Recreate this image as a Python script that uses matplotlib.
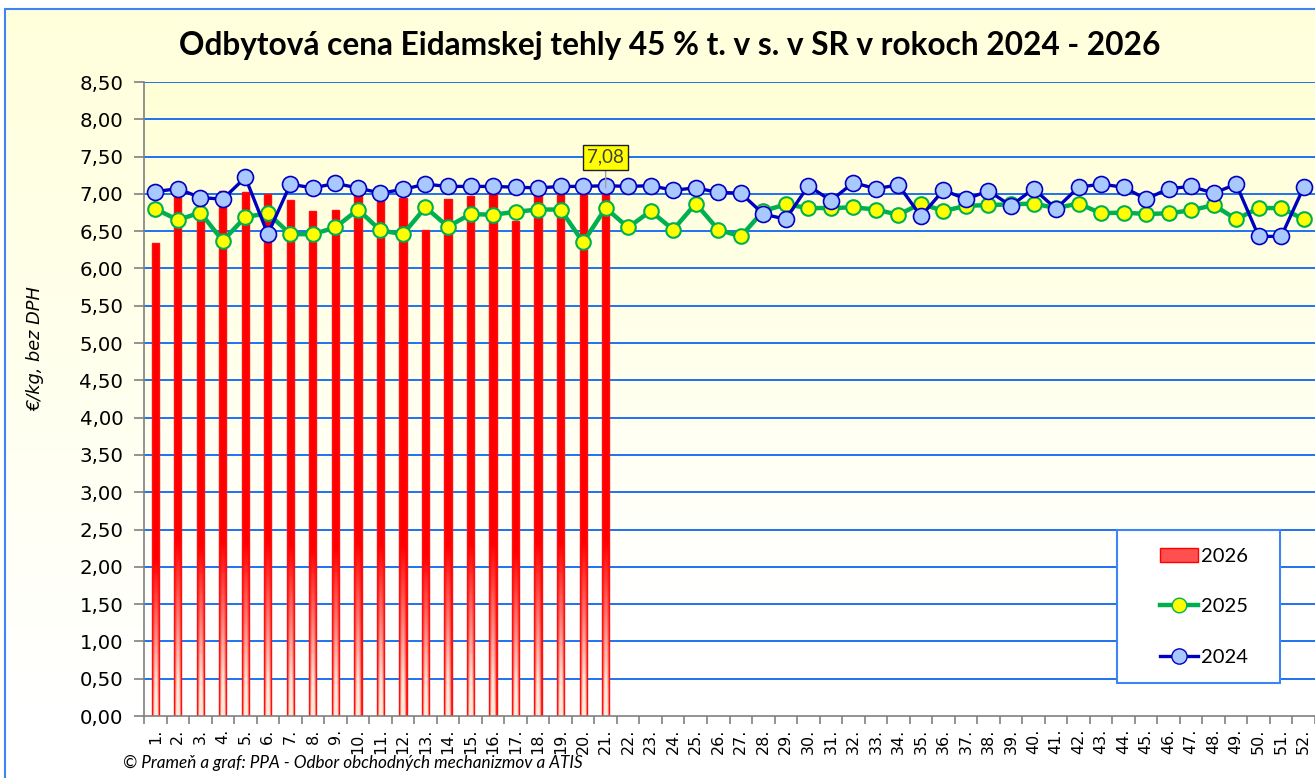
import numpy as np
import matplotlib
matplotlib.use("Agg")
from matplotlib import pyplot as plt
from matplotlib.patches import Rectangle, Patch
from matplotlib.lines import Line2D
from matplotlib.ticker import FixedLocator, FuncFormatter

# data
weeks = [str(i) + "." for i in range(1, 53)]

y2026 = [6.34, 7.10, 6.90, 7.04, 7.02, 7.00, 6.92, 6.77, 6.78, 7.01,
         6.94, 6.95, 6.51, 6.93, 6.97, 7.03, 6.64, 7.02, 7.05, 7.08, 7.08]

y2025 = [6.80, 6.65, 6.75, 6.37, 6.69, 6.74, 6.46, 6.46, 6.55, 6.79,
         6.51, 6.46, 6.82, 6.56, 6.73, 6.72, 6.76, 6.79, 6.79, 6.35,
         6.81, 6.55, 6.77, 6.52, 6.87, 6.52, 6.43, 6.77, 6.86, 6.81,
         6.81, 6.82, 6.79, 6.72, 6.87, 6.77, 6.84, 6.85, 6.86, 6.87,
         6.81, 6.87, 6.74, 6.75, 6.73, 6.74, 6.78, 6.85, 6.66, 6.81,
         6.81, 6.66]

y2024 = [7.03, 7.07, 6.95, 6.93, 7.22, 6.46, 7.13, 7.08, 7.14, 7.08,
         7.01, 7.06, 7.13, 7.10, 7.10, 7.10, 7.09, 7.08, 7.10, 7.10,
         7.11, 7.10, 7.11, 7.05, 7.08, 7.02, 7.01, 6.73, 6.66, 7.11,
         6.91, 7.15, 7.07, 7.12, 6.70, 7.05, 6.93, 7.04, 6.84, 7.07,
         6.80, 7.09, 7.13, 7.09, 6.93, 7.07, 7.10, 7.01, 7.13, 6.43,
         6.43, 7.09]

last_label = "7,08"

W, H = 1315, 778
fig = plt.figure(figsize=(W / 100, H / 100), dpi=100)
fig.patch.set_facecolor("white")

# chart area background (pale yellow fading to white) with blue border
bg = fig.add_axes([0, 0, 1, 1], zorder=-10)
bg.set_axis_off()
grad = np.linspace(0, 1, 256)[:, None]
t = np.clip(grad / 0.9, 0, 1)[..., None]
img = np.array([1.0, 1.0, 0.86]) * (1 - t) + np.array([1.0, 1.0, 1.0]) * t
bg.imshow(img, extent=[5 / W, 1.01, -0.01, 1 - 9 / H], aspect="auto", origin="upper")
bg.set_xlim(0, 1)
bg.set_ylim(0, 1)
bg.add_patch(Rectangle((5 / W, -0.05), 1.0, 1 - 9 / H + 0.05, fill=False,
                       edgecolor="#3D85F5", linewidth=1.5))

ax = fig.add_axes([144 / W, (H - 716) / H, (W - 144) / W, (716 - 82) / H])
ax.set_facecolor("none")

# plot area gradient
pg = np.linspace(0, 1, 256)[:, None]
tp = np.clip(pg / 0.8, 0, 1)[..., None]
pimg = np.array([1.0, 1.0, 0.84]) * (1 - tp) + np.array([1.0, 1.0, 1.0]) * tp
ax.imshow(pimg, extent=[0, 1, 0, 1], transform=ax.transAxes, aspect="auto",
          origin="upper", zorder=0)

x = np.arange(1, 53)

# grid
for v in np.arange(0.5, 8.51, 0.5):
    ax.axhline(v, color="#1F72F0", linewidth=1.4, zorder=1)

# bars 2026 with gradient fill
bars = ax.bar(x[:len(y2026)], y2026, width=0.32, color="#FF0000",
              edgecolor="#FF1010", linewidth=1.0, zorder=2)
ny, nx = 200, 20
vv = np.linspace(1, 0, ny)[:, None]  # top -> bottom
hh = np.linspace(-1, 1, nx)[None, :]
fade = np.clip(1 - vv / 0.33, 0, 1)
pale = np.clip(fade * (1 - hh ** 2) * 0.95 + fade * 0.25 * (1 - np.abs(hh)), 0, 0.95)
red = np.array([1.0, 0.0, 0.0])
white = np.array([1.0, 0.97, 0.9])
bar_img = red * (1 - pale[..., None]) + white * pale[..., None]
for b in bars:
    x0 = b.get_x()
    im = ax.imshow(bar_img, extent=[x0, x0 + b.get_width(), 0, b.get_height()],
                   aspect="auto", origin="upper", zorder=2.1)
    im.set_clip_path(b)
    b.set_facecolor("none")
    b.set_zorder(2.2)

# lines
ax.plot(x, y2025, color="#00B050", linewidth=3.2, marker="o", markersize=10.5,
        markerfacecolor="#FFFF00", markeredgecolor="#00B050", markeredgewidth=1.5,
        zorder=3)
ax.plot(x, y2024, color="#0000C0", linewidth=2.4, marker="o", markersize=11.5,
        markerfacecolor="#A9C8FF", markeredgecolor="#0000C0", markeredgewidth=1.2,
        zorder=4)

# label of last value
ax.annotate(last_label, xy=(len(y2026), y2026[-1]), xytext=(0, 22),
            textcoords="offset points", ha="center", va="center",
            fontsize=13.5, family="Lato", color="#404040",
            bbox=dict(boxstyle="square,pad=0.22", facecolor="#FFFF00",
                      edgecolor="#202020", linewidth=1),
            arrowprops=dict(arrowstyle="-", color="#A0A0A0", linewidth=1,
                            shrinkA=0, shrinkB=0),
            zorder=6)

# axes
ax.set_xlim(0.5, 52.5)
ax.set_ylim(0, 8.5)
for s in ["top", "right"]:
    ax.spines[s].set_visible(False)
for s in ["left", "bottom"]:
    ax.spines[s].set_color("#808080")
    ax.spines[s].set_linewidth(1.2)
    ax.spines[s].set_zorder(5)

ax.yaxis.set_major_locator(FixedLocator(np.arange(0, 8.51, 0.5)))
ax.yaxis.set_major_formatter(FuncFormatter(lambda v, p: f"{v:.2f}".replace(".", ",")))
ax.tick_params(axis="y", direction="out", length=7, width=1.2, color="#808080",
               labelsize=14.2, pad=8)

ax.set_xticks(x)
ax.set_xticklabels(weeks, rotation=90, fontsize=11.5)
ax.set_xticks(np.arange(0.5, 53, 1), minor=True)
ax.tick_params(axis="x", which="major", length=0, pad=9)
ax.tick_params(axis="x", which="minor", direction="out", length=6, width=1.2,
               color="#808080")

# legend
leg_box = Rectangle((1117 / W, 1 - 683 / H), 163 / W, 153 / H,
                    transform=fig.transFigure, facecolor="white",
                    edgecolor="#3D85F5", linewidth=1.5, zorder=10)
fig.patches.append(leg_box)
handles = [
    Patch(facecolor="#FF5050", edgecolor="#FF0000", linewidth=1),
    Line2D([], [], color="#00B050", linewidth=3.2, marker="o", markersize=10.5,
           markerfacecolor="#FFFF00", markeredgecolor="#00B050"),
    Line2D([], [], color="#0000C0", linewidth=2.4, marker="o", markersize=11,
           markerfacecolor="#A9C8FF", markeredgecolor="#0000C0"),
]
leg = fig.legend(handles, ["2026", "2025", "2024"], loc="upper left",
                 bbox_to_anchor=(1150 / W, 1 - 538 / H), frameon=False,
                 prop={"family": "Lato", "size": 14.5}, labelspacing=1.65,
                 handlelength=1.9, handletextpad=0.15, borderpad=0)
leg.set_zorder(11)

# texts
fig.text(670 / W, 1 - 45 / H,
         "Odbytová cena Eidamskej tehly 45 % t. v s. v SR v rokoch 2024 - 2026",
         ha="center", va="center", fontsize=22.8, fontweight="bold", family="Lato")
fig.text(35 / W, 1 - 349 / H, "€/kg, bez DPH", rotation=90, ha="center",
         va="center", fontsize=12.8, style="italic")
fig.text(123 / W, 1 - 763 / H,
         "© Prameň a graf: PPA - Odbor obchodných mechanizmov a ATIS",
         ha="left", va="center", fontsize=12.3, style="italic", family="Lato")

fig.savefig("out.png", dpi=100)
